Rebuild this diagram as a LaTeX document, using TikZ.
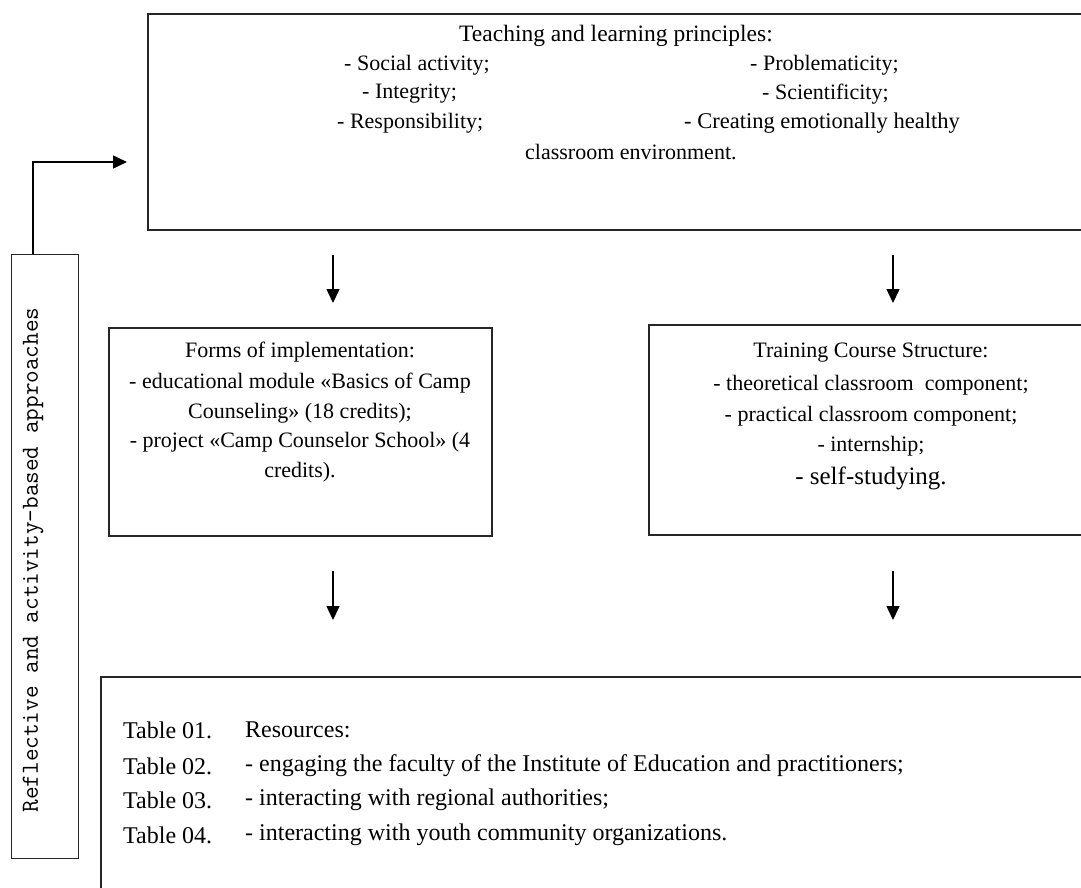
\documentclass[tikz,border=0pt]{standalone}
\usepackage{fontspec}
\setmainfont{Liberation Serif}
\usetikzlibrary{arrows.meta,calc}
\begin{document}
\begin{tikzpicture}[x=1pt,y=-1pt,
 box/.style={draw=black!85, line width=1.6pt, inner sep=0pt, anchor=north west},
 arr/.style={line width=1.5pt, -{Triangle[length=14pt,width=13pt]}},
 txt/.style={font=\fontsize{22}{26}\selectfont, inner sep=0pt},
 ltxt/.style={txt, anchor=west},
 btxt/.style={ltxt, font=\fontsize{24}{28}\selectfont},
]
\useasboundingbox (0,0) rectangle (1081,888);
\clip (0,0) rectangle (1081,888);
% boxes
\node[box, minimum width=960pt, minimum height=216pt] (top) at (147,13) {};
\node[box, minimum width=383pt, minimum height=208pt] (forms) at (108,327) {};
\node[box, minimum width=460pt, minimum height=210pt] (train) at (648,324) {};
\node[box, minimum width=1000pt, minimum height=260pt] (res) at (100,676) {};
\node[box, line width=1.3pt, minimum width=67pt, minimum height=604pt] (side) at (11,254) {};
% top box text
\node[txt, font=\fontsize{23.5}{26}\selectfont] (t0) at (616,36) {Teaching and learning principles:};
\node[ltxt] (t1) at (344,65) {- Social activity;};
\node[ltxt] (t2) at (750,65) {- Problematicity;};
\node[ltxt] (t3) at (362,94) {- Integrity;};
\node[ltxt] (t4) at (762,94) {- Scientificity;};
\node[ltxt] (t5) at (337,123) {- Responsibility;};
\node[ltxt, font=\fontsize{22.5}{26}\selectfont] (t6) at (684,123) {- Creating emotionally healthy};
\node[ltxt] (t7) at (525,152) {classroom environment.};
% forms text
\node[txt] (f0) at (300,352) {Forms of implementation:};
\node[txt] (f1) at (300,383) {- educational module «Basics of Camp};
\node[txt] (f2) at (300,413) {Counseling» (18 credits);};
\node[txt] (f3) at (300,442) {- project «Camp Counselor School» (4};
\node[txt] (f4) at (300,472) {credits).};
% training text
\node[txt] (r0) at (871,353) {Training Course Structure:};
\node[txt] (r1) at (871,385) {- theoretical classroom\ \ component;};
\node[txt] (r2) at (871,416) {- practical classroom component;};
\node[txt] (r3) at (871,446) {- internship;};
\node[txt, font=\fontsize{25}{28}\selectfont] (r4) at (871,478) {- self-studying.};
% resources text
\node[btxt] (b1) at (123,730) {Table 01.};
\node[btxt] (b2) at (123,766) {Table 02.};
\node[btxt] (b3) at (123,800) {Table 03.};
\node[btxt] (b4) at (123,835) {Table 04.};
\node[btxt] (c1t) at (245,730) {Resources:};
\node[btxt] (c2t) at (245,766) {- engaging the faculty of the Institute of Education and practitioners;};
\node[btxt] (c3t) at (245,800) {- interacting with regional authorities;};
\node[btxt] (c4t) at (245,835) {- interacting with youth community organizations.};
% side label
\node[font=\ttfamily\fontsize{24.5}{26}\selectfont, rotate=90, inner sep=0pt] (sl) at (33,560) {Reflective and activity-based approaches};
% arrows
\coordinate (x1) at (333,0);
\coordinate (x2) at (893,0);
\coordinate (s0) at (33,0);
\coordinate (s1) at (0,162);
\draw[arr] ($(top.south -| x1)+(0,24)$) -- ($(forms.north -| x1)+(0,-24)$);
\draw[arr] ($(top.south -| x2)+(0,24)$) -- ($(train.north -| x2)+(0,-21)$);
\draw[arr] ($(forms.south -| x1)+(0,34)$) -- ($(res.north -| x1)+(0,-56)$);
\draw[arr] ($(train.south -| x2)+(0,35)$) -- ($(res.north -| x2)+(0,-56)$);
\draw[arr] (side.north -| s0) |- ($(top.west |- s1)+(-20,0)$);
\end{tikzpicture}
\end{document}
